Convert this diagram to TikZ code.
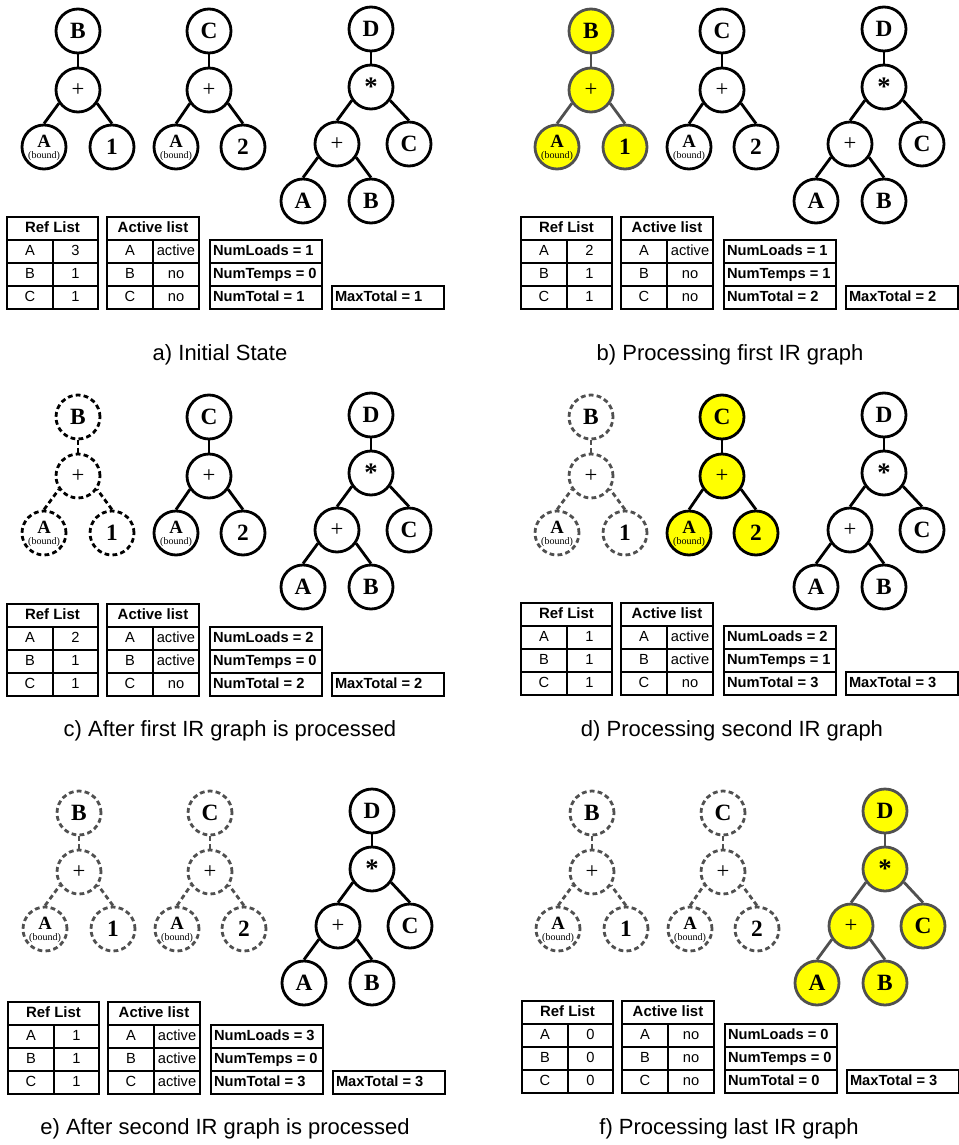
\documentclass[tikz,border=0pt]{standalone}
\usepackage{fontspec}
\setmainfont{Liberation Serif}
\newfontfamily\arialf{Liberation Sans}
\newdimen\pxd \pxd=0.75pt
\definecolor{dgray}{HTML}{505050}
\definecolor{hiyel}{HTML}{FFFF00}
\tikzset{
  nd/.style={circle,draw,line width=2.1pt,minimum size=33pt,inner sep=0pt,
    font=\fontsize{17.5}{19}\selectfont\bfseries},
  opnd/.style={font=\fontsize{17}{19}\selectfont},
  stnd/.style={font=\fontsize{20}{22}\selectfont\bfseries},
  bnd/.style={font=\fontsize{14}{15}\selectfont\bfseries,
    label={[font=\fontsize{7.5}{8}\selectfont,yshift=-6.75pt,inner sep=0pt]center:(bound)}},
  stN/.style={},
  stYG/.style={fill=hiyel,draw=dgray},
  stYB/.style={fill=hiyel},
  stDB/.style={dash pattern=on 3.6pt off 2.4pt},
  stDG/.style={dash pattern=on 3.6pt off 2.4pt,draw=dgray},
  edN/.style={line width=2.1pt},
  edYG/.style={line width=2.1pt,draw=dgray},
  edYB/.style={line width=2.1pt},
  edDB/.style={line width=2.1pt,dash pattern=on 3.6pt off 2.4pt},
  edDG/.style={line width=2.1pt,dash pattern=on 3.6pt off 2.4pt,draw=dgray},
  cell/.style={draw,line width=1.5pt,inner sep=0pt,minimum height=23\pxd,
    text height=8.2pt,text depth=2.2pt,
    font=\arialf\fontsize{11}{12}\selectfont},
  hcell/.style={cell,font=\arialf\bfseries\fontsize{11.2}{12}\selectfont},
  nbox/.style={draw,line width=1.5pt,inner sep=0pt,
    minimum height=23\pxd,minimum width=112\pxd,
    text height=8.2pt,text depth=2.2pt,
    font=\arialf\bfseries\fontsize{11}{12}\selectfont},
  capt/.style={font=\arialf\fontsize{16.5}{18}\selectfont}
}
\newcommand\smA{\raisebox{0pt}[0pt][0pt]{A}}
\newcommand\lft[1]{\makebox[106\pxd][l]{#1}}
% tree 1: B = A + 1
\newcommand\treeone[2]{%
  \node[nd,st#2] (#1b) at (78,31) {B};
  \node[nd,opnd,st#2] (#1p) at (78,90) {+};
  \node[nd,bnd,st#2] (#1a) at (44,147) {\smA};
  \node[nd,st#2] (#1n) at (112,147) {1};
  \draw[ed#2] (#1b.south) -- (#1p.north);
  \draw[ed#2] (#1a.north) -- (#1p.215);
  \draw[ed#2] (#1n.north) -- (#1p.325);
}
% tree 2: C = A + 2
\newcommand\treetwo[2]{%
  \node[nd,st#2] (#1c) at (209,31) {C};
  \node[nd,opnd,st#2] (#1p) at (209,90) {+};
  \node[nd,bnd,st#2] (#1a) at (176,147) {\smA};
  \node[nd,st#2] (#1n) at (243,147) {2};
  \draw[ed#2] (#1c.south) -- (#1p.north);
  \draw[ed#2] (#1a.north) -- (#1p.215);
  \draw[ed#2] (#1n.north) -- (#1p.325);
}
% tree 3: D = (A + B) * C
\newcommand\treethree[2]{%
  \node[nd,st#2] (#1d) at (371,29) {D};
  \node[nd,stnd,st#2] (#1m) at (371,87) {*};
  \node[nd,opnd,st#2] (#1p) at (337,144) {+};
  \node[nd,st#2] (#1c) at (409,144) {C};
  \node[nd,st#2] (#1a) at (303,201) {A};
  \node[nd,st#2] (#1b) at (371,201) {B};
  \draw[ed#2] (#1d.south) -- (#1m.north);
  \draw[ed#2] (#1p.north) -- (#1m.215);
  \draw[ed#2] (#1c.north) -- (#1m.325);
  \draw[ed#2] (#1a.north) -- (#1p.215);
  \draw[ed#2] (#1b.north) -- (#1p.325);
}
% tables: prefix, ref A B C, active A B C
\newcommand\lists[7]{%
  \node[hcell,minimum width=91\pxd] (#1rh) at (52.5,228.5) {Ref List};
  \node[cell,minimum width=46\pxd] (#1ra) at (30,251.5) {A};
  \node[cell,minimum width=45\pxd] (#1rav) at (75.5,251.5) {#2};
  \node[cell,minimum width=46\pxd] (#1rb) at (30,274.5) {B};
  \node[cell,minimum width=45\pxd] (#1rbv) at (75.5,274.5) {#3};
  \node[cell,minimum width=46\pxd] (#1rc) at (30,297.5) {C};
  \node[cell,minimum width=45\pxd] (#1rcv) at (75.5,297.5) {#4};
  \node[hcell,minimum width=92\pxd] (#1ah) at (153,228.5) {Active list};
  \node[cell,minimum width=46\pxd] (#1aa) at (130,251.5) {A};
  \node[cell,minimum width=46\pxd] (#1aav) at (176,251.5) {#5};
  \node[cell,minimum width=46\pxd] (#1ab) at (130,274.5) {B};
  \node[cell,minimum width=46\pxd] (#1abv) at (176,274.5) {#6};
  \node[cell,minimum width=46\pxd] (#1ac) at (130,297.5) {C};
  \node[cell,minimum width=46\pxd] (#1acv) at (176,297.5) {#7};
}
\newcommand\counters[5]{%
  \node[nbox] (#1nl) at (266,251.5) {\lft{NumLoads = #2}};
  \node[nbox] (#1nt) at (266,274.5) {\lft{NumTemps = #3}};
  \node[nbox] (#1no) at (266,297.5) {\lft{NumTotal = #4}};
  \node[nbox] (#1mx) at (388,297.5) {\lft{MaxTotal = #5}};
}
\begin{document}
\begin{tikzpicture}[x=0.75pt,y=-0.75pt]
\useasboundingbox (0,0) rectangle (959,1145);
% a
\begin{scope}
  \treeone{aa}{N}\treetwo{ab}{N}\treethree{ac}{N}
  \lists{at}{3}{1}{1}{active}{no}{no}\counters{at}{1}{0}{1}{1}
\end{scope}
\node[capt] (capa) at (220,355) {a) Initial State};
% b
\begin{scope}[shift={(513,0)}]
  \treeone{ba}{YG}\treetwo{bb}{N}\treethree{bc}{N}
\end{scope}
\begin{scope}[shift={(514,0)}]
  \lists{bt}{2}{1}{1}{active}{no}{no}\counters{bt}{1}{1}{2}{2}
\end{scope}
\node[capt] (capb) at (730,355) {b) Processing first IR graph};
% c
\begin{scope}[shift={(0,386)}]
  \treeone{ca}{DB}\treetwo{cb}{N}\treethree{cc}{N}
\end{scope}
\begin{scope}[shift={(0,387)}]
  \lists{ct}{2}{1}{1}{active}{active}{no}\counters{ct}{2}{0}{2}{2}
\end{scope}
\node[capt] (capc) at (230,731) {c) After first IR graph is processed};
% d
\begin{scope}[shift={(513,386)}]
  \treeone{da}{DG}\treetwo{db}{YB}\treethree{dc}{N}
\end{scope}
\begin{scope}[shift={(514,386)}]
  \lists{dt}{1}{1}{1}{active}{active}{no}\counters{dt}{2}{1}{3}{3}
\end{scope}
\node[capt] (capd) at (732,731) {d) Processing second IR graph};
% e
\begin{scope}[shift={(1,782)}]
  \treeone{ea}{DG}\treetwo{eb}{DG}\treethree{ec}{N}
\end{scope}
\begin{scope}[shift={(1,785)}]
  \lists{et}{1}{1}{1}{active}{active}{active}\counters{et}{3}{0}{3}{3}
\end{scope}
\node[capt] (cape) at (225,1129) {e) After second IR graph is processed};
% f
\begin{scope}[shift={(514,782)}]
  \treeone{fa}{DG}\treetwo{fb}{DG}\treethree{fc}{YG}
\end{scope}
\begin{scope}[shift={(515,784)}]
  \lists{ft}{0}{0}{0}{no}{no}{no}\counters{ft}{0}{0}{0}{3}
\end{scope}
\node[capt] (capf) at (729,1129) {f) Processing last IR graph};
\end{tikzpicture}
\end{document}
